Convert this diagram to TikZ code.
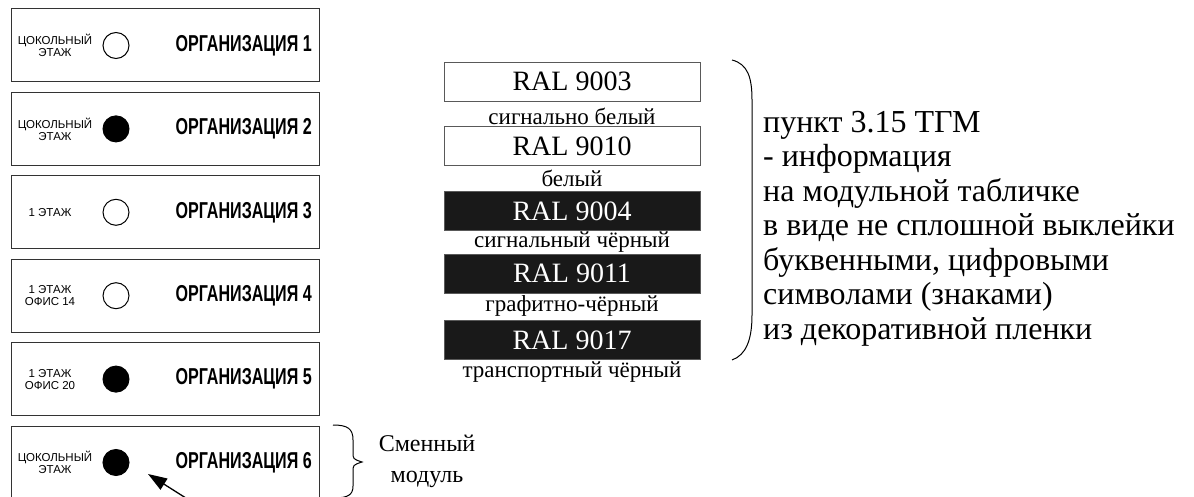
\documentclass[tikz,border=0pt]{standalone}
\usepackage{fontspec}
\setmainfont{Liberation Serif}
\newfontfamily\floorfont{Liberation Sans}
\newfontfamily\orgfont[FakeStretch=0.7]{Liberation Sans}
\usetikzlibrary{arrows.meta}

\tikzset{
  panel/.style={draw=black!80, line width=1pt, minimum width=308pt, minimum height=73pt, inner sep=0pt},
  floor/.style={font=\floorfont\fontsize{11.5}{12}\selectfont, align=center, inner sep=0pt},
  org/.style={font=\orgfont\bfseries\fontsize{23}{24}\selectfont, anchor=east, inner sep=0pt},
  lamp/.style={circle, draw, line width=1pt, minimum size=26pt, inner sep=0pt},
  lampon/.style={lamp, fill=black},
  whitebar/.style={draw=black!65, line width=0.8pt, fill=white, minimum width=256pt, minimum height=39pt, inner sep=0pt, font=\fontsize{28}{28}\selectfont},
  blackbar/.style={whitebar, fill=black!90, text=white},
  barlabel/.style={font=\fontsize{23}{23}\selectfont, inner sep=0pt}
}

\begin{document}
\begin{tikzpicture}[x=1pt, y=-1pt]
\useasboundingbox (0,0) rectangle (1194,497);

\node (p1) at (165,45.5) [panel] {};
\node (p2) at (165,128.9) [panel] {};
\node (p3) at (165,212.3) [panel] {};
\node (p4) at (165,295.7) [panel] {};
\node (p5) at (165,379.1) [panel] {};
\node (p6) at (165,462.5) [panel] {};

\node (f1) at (55,45.5) [floor] {ЦОКОЛЬНЫЙ\\ЭТАЖ};
\node (f2) at (55,128.9) [floor] {ЦОКОЛЬНЫЙ\\ЭТАЖ};
\node (f3) at (50,212.3) [floor] {1 ЭТАЖ};
\node (f4) at (50,295.7) [floor] {1 ЭТАЖ\\ОФИС 14};
\node (f5) at (50,379.1) [floor] {1 ЭТАЖ\\ОФИС 20};
\node (f6) at (55,462.5) [floor] {ЦОКОЛЬНЫЙ\\ЭТАЖ};

\node (c1) at (116,45.5) [lamp] {};
\node (c2) at (116,128.9) [lampon] {};
\node (c3) at (116,212.3) [lamp] {};
\node (c4) at (116,295.7) [lamp] {};
\node (c5) at (116,379.1) [lampon] {};
\node (c6) at (116,462.5) [lampon] {};

\node (o1) at (312,45.5) [org] {ОРГАНИЗАЦИЯ 1};
\node (o2) at (312,128.9) [org] {ОРГАНИЗАЦИЯ 2};
\node (o3) at (312,212.3) [org] {ОРГАНИЗАЦИЯ 3};
\node (o4) at (312,295.7) [org] {ОРГАНИЗАЦИЯ 4};
\node (o5) at (312,379.1) [org] {ОРГАНИЗАЦИЯ 5};
\node (o6) at (312,462.5) [org] {ОРГАНИЗАЦИЯ 6};

\coordinate (atail) at (189,500);
\coordinate (ahead) at (148,474);
\draw [-{Triangle[length=19pt,width=13pt]}, line width=1.3pt] (atail) -- (ahead);

\coordinate (s1) at (333,425);
\coordinate (s2) at (333,498);
\draw [line width=1pt] (s1) .. controls (348,425) and (353,429) .. (353,440) -- (353,452) .. controls (353,459) .. (362,462) .. controls (353,465) .. (353,472) -- (353,486) .. controls (353,495) and (348,498) .. (s2);
\node (swap) at (427,461) [align=center, font=\fontsize{24}{31}\selectfont] {Сменный\\модуль};

\node (r1) at (572,81.5) [whitebar] {RAL 9003};
\node (r2) at (572,146) [whitebar] {RAL 9010};
\node (r3) at (572,211) [blackbar] {RAL 9004};
\node (r4) at (572,273.5) [blackbar] {RAL 9011};
\node (r5) at (572,340) [blackbar] {RAL 9017};

\node (l1) at (572,116) [barlabel] {сигнально белый};
\node (l2) at (572,178) [barlabel] {белый};
\node (l3) at (572,242) [barlabel] {сигнальный чёрный};
\node (l4) at (572,306) [barlabel] {графитно-чёрный};
\node (l5) at (572,372) [barlabel] {транспортный чёрный};

\coordinate (k1) at (732,60);
\coordinate (k2) at (732,360);
\draw [line width=1pt] (k1) .. controls (748,64) and (752,78) .. (752,100) -- (752,315) .. controls (752,340) and (746,355) .. (k2);

\node (info) at (763,111) [anchor=north west, align=left, inner sep=0pt, font=\fontsize{32}{34.5}\selectfont] {пункт 3.15 ТГМ\\- информация\\на модульной табличке\\в виде не сплошной выклейки\\буквенными, цифровыми\\символами (знаками)\\из декоративной пленки};
\end{tikzpicture}
\end{document}
